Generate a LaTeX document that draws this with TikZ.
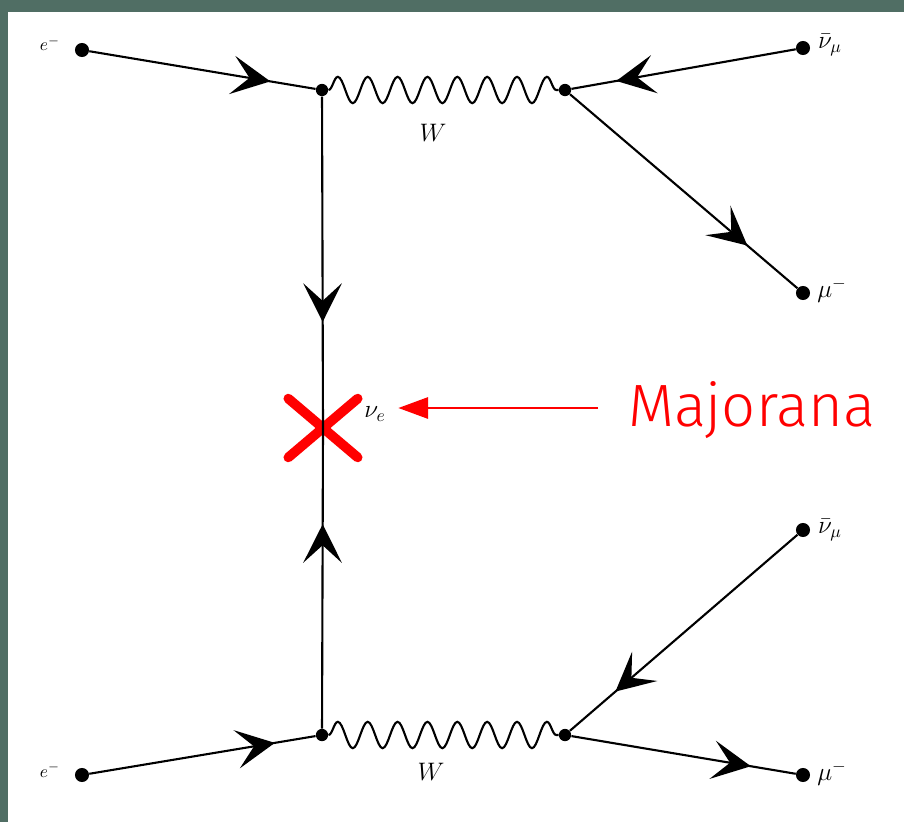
\documentclass[tikz,border=0pt]{standalone}
\usepackage{amsmath}
\usepackage{fontspec}
\usetikzlibrary{arrows.meta,calc,positioning}
\usetikzlibrary{decorations.pathmorphing,decorations.markings,shapes.misc}
\newfontfamily\handfont{Fira Sans Light}
\definecolor{framegreen}{RGB}{80,110,100}
\definecolor{majred}{RGB}{255,0,0}
\tikzset{
  vdot/.style={circle,fill=black,inner sep=0pt,minimum size=#1},
  vdot/.default=8pt,
  fermion/.style={line width=1.2pt,
    decoration={markings,mark=at position #1 with {\arrow{Stealth[length=22pt,width=22pt,inset=10pt]}}},
    postaction={decorate}},
  photon/.style={line width=1.2pt,decorate,
    decoration={snake,amplitude=7.5pt,segment length=17pt}},
  lbl/.style={inner sep=1pt,font=\Large},
  majx/.style={cross out,draw=majred,line width=5.5pt,line cap=round,
    minimum width=34pt,minimum height=28pt,inner sep=0pt},
}

\begin{document}
\begin{tikzpicture}[x=0.02cm,y=-0.02cm]
            % Frame
            \useasboundingbox (0,0) rectangle (904,822);
            \fill[framegreen] (0,0) rectangle (904,822);
            \fill[white] (8,12) rectangle (904,822);
            % Define points
            \node[vdot=7pt] (v1) at (322,90) {};
            \node[vdot=7pt] (v2) at (565,90) {};
            \node[vdot=7pt] (v3) at (322,735) {};
            \node[vdot=7pt] (v4) at (565,735) {};
            \node[vdot] (e1) at (82,50) {};
            \node[vdot] (nb1) at (803,48) {};
            \node[vdot] (mu1) at (803,293) {};
            \node[vdot] (e2) at (82,775) {};
            \node[vdot] (nb2) at (803,530) {};
            \node[vdot] (mu2) at (803,775) {};
            \node[majx] (mx) at (323,428) {};
            % Fermion lines
            \draw[fermion=0.8] (e1) -- (v1);
            \draw[fermion=0.8] (nb1) -- (v2);
            \draw[fermion=0.78] (v2) -- (mu1);
            \draw[fermion=0.68] (v1) -- (mx.center);
            \draw[fermion=0.68] (v3) -- (mx.center);
            \draw[fermion=0.82] (e2) -- (v3);
            \draw[fermion=0.8] (nb2) -- (v4);
            \draw[fermion=0.8] (v4) -- (mu2);
            % W bosons
            \draw[photon] (v1) -- (v2);
            \draw[photon] (v3) -- (v4);
            % Label the particles
            \node[lbl,font=\normalsize] (le1) at (50,44) {$e^-$};
            \node[lbl] (lnb1) at (830,45) {$\bar{\nu}_\mu$};
            \node[lbl] (lmu1) at (832,290) {$\mu^-$};
            \node[lbl] (lw1) at (433,133) {$W$};
            \node[lbl,font=\normalsize] (le2) at (50,770) {$e^-$};
            \node[lbl] (lnb2) at (830,530) {$\bar{\nu}_\mu$};
            \node[lbl] (lmu2) at (832,773) {$\mu^-$};
            \node[lbl] (lw2) at (431,772) {$W$};
            \node[lbl] (nue) at (375,414) {$\nu_e$};
            % Majorana note
            \node[anchor=base west,inner sep=0pt,text=majred,
              font={\handfont\fontsize{34}{36}\selectfont}] (maj) at (628,426) {Majorana};
            \coordinate (tail) at (598,408);
            \draw[majred,line width=1.7pt,-{Triangle[length=17pt,width=12pt]},shorten >=6pt]
              (tail) -- (tail -| nue.east);
          \end{tikzpicture}
\end{document}
